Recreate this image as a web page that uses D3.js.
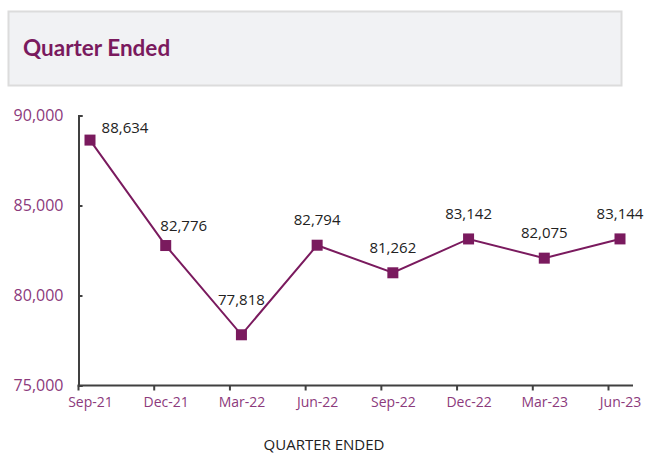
<!DOCTYPE html>
<html>
<head>
<meta charset="utf-8">
<script src="https://cdn.jsdelivr.net/npm/d3@7"></script>
<style>
  body { margin: 0; background: #fff; }
  text { font-family: "Open Sans", "Noto Sans", sans-serif; }
</style>
</head>
<body>
<div id="chart"></div>
<script>
var quarters = ["Sep-21", "Dec-21", "Mar-22", "Jun-22", "Sep-22", "Dec-22", "Mar-23", "Jun-23"];
var values = [88634, 82776, 77818, 82794, 81262, 83142, 82075, 83144];
var yTicks = [75000, 80000, 85000, 90000];

// label nudges (dx, dy from the point), the first two sit right of the line
var labelDx = [35, 18, 0, 0, 0, 0, 0, 0];
var labelDy = [-7, -15, -30, -20, -20, -20, -20, -20];

var width = 645, height = 453;
var purple = "#7a1a5e";
var tickColor = "#8c3a7c";
var axisColor = "#404040";

var svg = d3.select("#chart").append("svg")
  .attr("width", width)
  .attr("height", height);

/* Title box */
svg.append("rect")
  .attr("x", 8.5).attr("y", 11.5)
  .attr("width", 613).attr("height", 74)
  .attr("fill", "#f1f2f4")
  .attr("stroke", "#dcdcdc")
  .attr("stroke-width", 2);

svg.append("text")
  .attr("x", 23).attr("y", 56)
  .attr("fill", purple)
  .style("font-family", "Lato, 'Open Sans', sans-serif")
  .style("font-weight", "bold")
  .style("font-size", "22.5px")
  .text("Quarter Ended");

/* Scales */
var x = d3.scalePoint()
  .domain(quarters)
  .range([90, 620]);

var y = d3.scaleLinear()
  .domain([75000, 90000])
  .range([385.5, 115.5]);

var axisX = 78.5;
var tickShift = -12;

/* Y axis */
var yAxis = svg.append("g")
  .attr("transform", `translate(${axisX},0)`)
  .call(d3.axisLeft(y).tickValues(yTicks).tickFormat(d3.format(",")).tickSize(-4).tickPadding(15));
yAxis.select(".domain").attr("stroke", axisColor).attr("stroke-width", 2);
yAxis.selectAll(".tick line").attr("stroke", axisColor).attr("stroke-width", 2);
yAxis.selectAll(".tick text")
  .attr("fill", tickColor)
  .style("font-size", "16px")
  .style("font-family", "'Open Sans', sans-serif");

/* X axis */
var xAxis = svg.append("g")
  .attr("transform", `translate(0,${y(75000)})`)
  .call(d3.axisBottom(x).tickSize(0).tickPadding(12));
xAxis.select(".domain")
  .attr("d", `M${axisX - 1},0H633`)
  .attr("stroke", axisColor).attr("stroke-width", 2);
xAxis.selectAll(".tick text")
  .attr("fill", tickColor)
  .style("font-size", "14px")
  .style("font-family", "'Open Sans', sans-serif");
xAxis.selectAll(".tick").append("line")
  .attr("x1", tickShift).attr("x2", tickShift)
  .attr("y1", 0).attr("y2", 5)
  .attr("stroke", axisColor).attr("stroke-width", 2);

svg.append("text")
  .attr("x", 324).attr("y", 450)
  .attr("text-anchor", "middle")
  .attr("fill", "#222")
  .style("font-size", "15px")
  .text("QUARTER ENDED");

/* Line */
var line = d3.line()
  .x((d, i) => x(quarters[i]))
  .y(d => y(d));

svg.append("path")
  .datum(values)
  .attr("d", line)
  .attr("fill", "none")
  .attr("stroke", purple)
  .attr("stroke-width", 2);

/* Markers */
svg.selectAll(".marker")
  .data(values).enter()
  .append("rect")
  .attr("class", "marker")
  .attr("x", (d, i) => x(quarters[i]) - 5.5)
  .attr("y", d => y(d) - 5.5)
  .attr("width", 11).attr("height", 11)
  .attr("fill", purple);

/* Value labels */
svg.selectAll(".val")
  .data(values).enter()
  .append("text")
  .attr("class", "val")
  .attr("x", (d, i) => x(quarters[i]) + labelDx[i])
  .attr("y", (d, i) => y(d) + labelDy[i])
  .attr("text-anchor", "middle")
  .attr("fill", "#222")
  .style("font-size", "15px")
  .text(d => d3.format(",")(d));
</script>
</body>
</html>
